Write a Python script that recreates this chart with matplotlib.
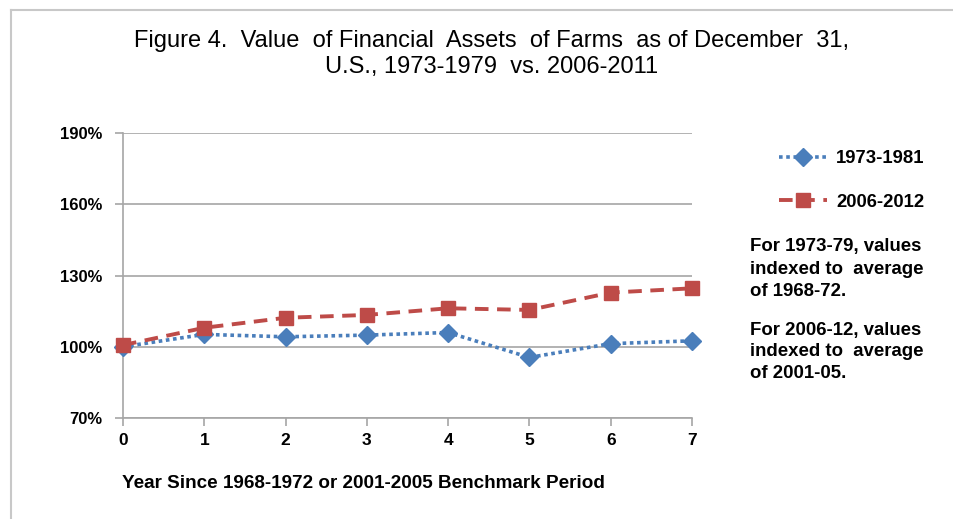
import matplotlib
matplotlib.use("Agg")
import matplotlib.pyplot as plt
from matplotlib.lines import Line2D
from matplotlib.ticker import FuncFormatter

years = [0, 1, 2, 3, 4, 5, 6, 7]
s1973 = [100.0, 105.2, 104.2, 104.9, 106.0, 95.5, 101.3, 102.5]
s2006 = [100.7, 108.0, 112.2, 113.4, 116.2, 115.5, 122.8, 124.6]
yticks = [70, 100, 130, 160, 190]

W, H = 954, 519
fig = plt.figure(figsize=(W / 100, H / 100), dpi=100)
fam = ['Liberation Sans', 'DejaVu Sans']

ax = fig.add_axes([123 / W, 1 - 418 / H, (692 - 123) / W, (418 - 133) / H])
blue = '#4a7ebb'
red = '#be4b48'
l1, = ax.plot(years, s1973, color=blue, linestyle=(0, (1, 1.0)), linewidth=2.6,
              marker='D', markersize=9, markerfacecolor=blue, markeredgecolor=blue,
              label='1973-1981', zorder=3, clip_on=False)
l2, = ax.plot(years, s2006, color=red, linestyle=(0, (3.5, 2.2)), linewidth=2.8,
              marker='s', markersize=10, markerfacecolor=red, markeredgecolor=red,
              label='2006-2012', zorder=4, clip_on=False)

ax.set_xlim(0, 7)
ax.set_ylim(70, 190)
ax.set_yticks(yticks)
ax.yaxis.set_major_formatter(FuncFormatter(lambda v, p: f"{int(v)}%"))
ax.set_xticks(years)
ax.grid(axis='y', color='#a6a6a6', linewidth=1.2)
ax.set_axisbelow(True)
for s in ['top', 'right']:
    ax.spines[s].set_visible(False)
for s in ['left', 'bottom']:
    ax.spines[s].set_color('#a6a6a6')
    ax.spines[s].set_linewidth(1.2)
ax.tick_params(axis='both', colors='#a6a6a6', length=6, width=1.2,
               labelcolor='black')
ax.tick_params(axis='y', pad=9)
ax.tick_params(axis='x', pad=5)
for lbl in ax.get_yticklabels():
    lbl.set_fontfamily(fam)
    lbl.set_fontweight('bold')
    lbl.set_fontsize(12)
for lbl in ax.get_xticklabels():
    lbl.set_fontfamily(fam)
    lbl.set_fontweight('bold')
    lbl.set_fontsize(12.5)

fig.text(492 / W, 1 - 41 / H,
         "Figure 4.  Value  of Financial  Assets  of Farms  as of December  31,",
         ha='center', va='center', fontsize=17, family=fam)
fig.text(492 / W, 1 - 67 / H,
         "U.S., 1973-1979  vs. 2006-2011",
         ha='center', va='center', fontsize=17, family=fam)

fig.text(122 / W, 1 - 484 / H,
         "Year Since 1968-1972 or 2001-2005 Benchmark Period",
         ha='left', va='center', fontsize=13.6, fontweight='bold', family=fam)

leg = fig.legend(handles=[l1, l2], loc='upper left',
                 bbox_to_anchor=(779 / W, 1 - 150 / H), frameon=False,
                 prop={'family': fam, 'weight': 'bold', 'size': 13.3},
                 handlelength=2.6, labelspacing=1.45, handletextpad=0.5,
                 borderaxespad=0, borderpad=0)

notes = ["For 1973-79, values", "indexed to  average", "of 1968-72.",
         "For 2006-12, values", "indexed to  average", "of 2001-05."]
ys = [247, 269, 291, 330, 352, 374]
for t, y in zip(notes, ys):
    fig.text(750 / W, 1 - y / H, t, ha='left', va='center', fontsize=13.4,
             fontweight='bold', family=fam)

fig.add_artist(Line2D([11 / W, 1], [1 - 9.5 / H, 1 - 9.5 / H],
                      transform=fig.transFigure, color='#c8c8c8', linewidth=1.5))
fig.add_artist(Line2D([11 / W, 11 / W], [0, 1 - 9.5 / H],
                      transform=fig.transFigure, color='#c8c8c8', linewidth=1.5))

fig.savefig("out.png", dpi=100)
